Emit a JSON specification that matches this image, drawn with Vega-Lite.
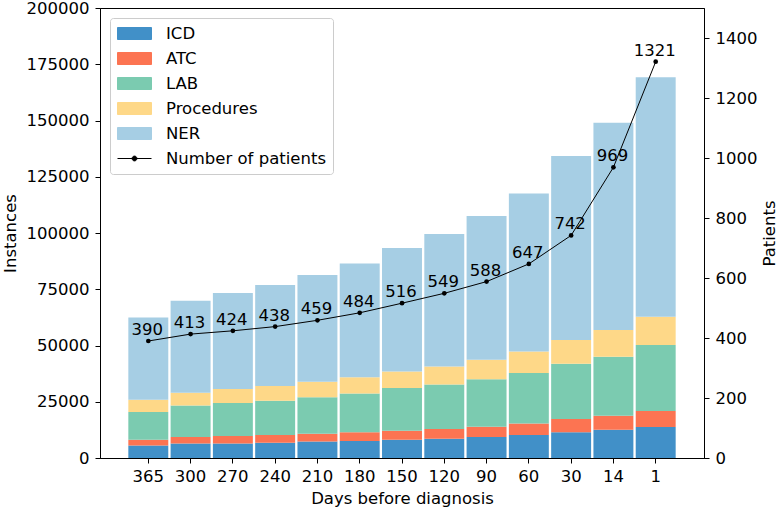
{
  "$schema": "https://vega.github.io/schema/vega-lite/v6.json",
  "width": 604,
  "height": 450,
  "autosize": "none",
  "padding": {"left": 100, "top": 8, "right": 78, "bottom": 54},
  "background": "white",
  "config": {
    "font": "DejaVu Sans",
    "view": {"stroke": "black", "strokeWidth": 1},
    "axis": {
      "grid": false,
      "domainColor": "black",
      "tickColor": "black",
      "tickSize": 5,
      "labelColor": "black",
      "titleColor": "black",
      "labelFontSize": 16.5,
      "titleFontSize": 16.5,
      "titleFontWeight": "normal",
      "labelFont": "DejaVu Sans",
      "titleFont": "DejaVu Sans"
    },
    "legend": {
      "labelFont": "DejaVu Sans",
      "labelFontSize": 16.5,
      "labelColor": "black"
    }
  },
  "datasets": {
    "bars": [
      {"day": 365, "type": "ICD", "k": 1, "value": 5600},
      {"day": 365, "type": "ATC", "k": 2, "value": 2500},
      {"day": 365, "type": "LAB", "k": 3, "value": 12300},
      {"day": 365, "type": "Procedures", "k": 4, "value": 5500},
      {"day": 365, "type": "NER", "k": 5, "value": 36500},
      {"day": 300, "type": "ICD", "k": 1, "value": 6400},
      {"day": 300, "type": "ATC", "k": 2, "value": 2900},
      {"day": 300, "type": "LAB", "k": 3, "value": 14000},
      {"day": 300, "type": "Procedures", "k": 4, "value": 5700},
      {"day": 300, "type": "NER", "k": 5, "value": 40900},
      {"day": 270, "type": "ICD", "k": 1, "value": 6500},
      {"day": 270, "type": "ATC", "k": 2, "value": 3300},
      {"day": 270, "type": "LAB", "k": 3, "value": 14600},
      {"day": 270, "type": "Procedures", "k": 4, "value": 6300},
      {"day": 270, "type": "NER", "k": 5, "value": 42600},
      {"day": 240, "type": "ICD", "k": 1, "value": 6800},
      {"day": 240, "type": "ATC", "k": 2, "value": 3400},
      {"day": 240, "type": "LAB", "k": 3, "value": 15300},
      {"day": 240, "type": "Procedures", "k": 4, "value": 6500},
      {"day": 240, "type": "NER", "k": 5, "value": 44900},
      {"day": 210, "type": "ICD", "k": 1, "value": 7300},
      {"day": 210, "type": "ATC", "k": 2, "value": 3500},
      {"day": 210, "type": "LAB", "k": 3, "value": 16200},
      {"day": 210, "type": "Procedures", "k": 4, "value": 6900},
      {"day": 210, "type": "NER", "k": 5, "value": 47400},
      {"day": 180, "type": "ICD", "k": 1, "value": 7600},
      {"day": 180, "type": "ATC", "k": 2, "value": 3800},
      {"day": 180, "type": "LAB", "k": 3, "value": 17300},
      {"day": 180, "type": "Procedures", "k": 4, "value": 7200},
      {"day": 180, "type": "NER", "k": 5, "value": 50600},
      {"day": 150, "type": "ICD", "k": 1, "value": 8100},
      {"day": 150, "type": "ATC", "k": 2, "value": 4000},
      {"day": 150, "type": "LAB", "k": 3, "value": 19000},
      {"day": 150, "type": "Procedures", "k": 4, "value": 7400},
      {"day": 150, "type": "NER", "k": 5, "value": 54800},
      {"day": 120, "type": "ICD", "k": 1, "value": 8600},
      {"day": 120, "type": "ATC", "k": 2, "value": 4300},
      {"day": 120, "type": "LAB", "k": 3, "value": 19800},
      {"day": 120, "type": "Procedures", "k": 4, "value": 8000},
      {"day": 120, "type": "NER", "k": 5, "value": 58900},
      {"day": 90, "type": "ICD", "k": 1, "value": 9300},
      {"day": 90, "type": "ATC", "k": 2, "value": 4600},
      {"day": 90, "type": "LAB", "k": 3, "value": 21100},
      {"day": 90, "type": "Procedures", "k": 4, "value": 8700},
      {"day": 90, "type": "NER", "k": 5, "value": 63900},
      {"day": 60, "type": "ICD", "k": 1, "value": 10200},
      {"day": 60, "type": "ATC", "k": 2, "value": 5100},
      {"day": 60, "type": "LAB", "k": 3, "value": 22500},
      {"day": 60, "type": "Procedures", "k": 4, "value": 9500},
      {"day": 60, "type": "NER", "k": 5, "value": 70300},
      {"day": 30, "type": "ICD", "k": 1, "value": 11400},
      {"day": 30, "type": "ATC", "k": 2, "value": 5900},
      {"day": 30, "type": "LAB", "k": 3, "value": 24600},
      {"day": 30, "type": "Procedures", "k": 4, "value": 10500},
      {"day": 30, "type": "NER", "k": 5, "value": 81800},
      {"day": 14, "type": "ICD", "k": 1, "value": 12600},
      {"day": 14, "type": "ATC", "k": 2, "value": 6200},
      {"day": 14, "type": "LAB", "k": 3, "value": 26200},
      {"day": 14, "type": "Procedures", "k": 4, "value": 11900},
      {"day": 14, "type": "NER", "k": 5, "value": 92100},
      {"day": 1, "type": "ICD", "k": 1, "value": 13800},
      {"day": 1, "type": "ATC", "k": 2, "value": 7100},
      {"day": 1, "type": "LAB", "k": 3, "value": 29300},
      {"day": 1, "type": "Procedures", "k": 4, "value": 12600},
      {"day": 1, "type": "NER", "k": 5, "value": 106400}
    ],
    "patients": [
      {"day": 365, "patients": 390, "series": "Number of patients"},
      {"day": 300, "patients": 413, "series": "Number of patients"},
      {"day": 270, "patients": 424, "series": "Number of patients"},
      {"day": 240, "patients": 438, "series": "Number of patients"},
      {"day": 210, "patients": 459, "series": "Number of patients"},
      {"day": 180, "patients": 484, "series": "Number of patients"},
      {"day": 150, "patients": 516, "series": "Number of patients"},
      {"day": 120, "patients": 549, "series": "Number of patients"},
      {"day": 90, "patients": 588, "series": "Number of patients"},
      {"day": 60, "patients": 647, "series": "Number of patients"},
      {"day": 30, "patients": 742, "series": "Number of patients"},
      {"day": 14, "patients": 969, "series": "Number of patients"},
      {"day": 1, "patients": 1321, "series": "Number of patients"}
    ]
  },
  "encoding": {
    "x": {
      "field": "day",
      "type": "ordinal",
      "sort": [365, 300, 270, 240, 210, 180, 150, 120, 90, 60, 30, 14, 1],
      "scale": {"paddingInner": 0.055, "paddingOuter": 0.67},
      "axis": {"title": "Days before diagnosis", "labelAngle": 0, "labelPadding": 5, "titlePadding": 6}
    }
  },
  "layer": [
    {
      "data": {"name": "bars"},
      "mark": {"type": "bar", "strokeWidth": 0},
      "encoding": {
        "y": {
          "field": "value",
          "type": "quantitative",
          "aggregate": "sum",
          "stack": "zero",
          "scale": {"domain": [0, 200000], "nice": false},
          "axis": {
            "title": "Instances",
            "values": [0, 25000, 50000, 75000, 100000, 125000, 150000, 175000, 200000],
            "format": "d",
            "labelPadding": 6,
            "titlePadding": 8
          }
        },
        "color": {
          "field": "type",
          "type": "nominal",
          "scale": {
            "domain": ["ICD", "ATC", "LAB", "Procedures", "NER", "Number of patients"],
            "range": ["#4190c8", "#fc7452", "#7bcbb0", "#fed888", "#a6cee4", "#000000"]
          },
          "legend": {
            "title": null,
            "orient": "top-left",
            "offset": 10,
            "padding": 7,
            "fillColor": "white",
            "strokeColor": "#cccccc",
            "cornerRadius": 3,
            "symbolSize": 256,
            "labelOffset": 32,
            "rowPadding": 8,
            "encode": {
              "symbols": {
                "update": {
                  "shape": {"signal": "datum.value === 'Number of patients' ? 'M-1,0H3.25M0.825,0A0.3,0.3 0 1,0 1.425,0A0.3,0.3 0 1,0 0.825,0' : 'M-1,-0.75H3.25V0.75H-1Z'"},
                  "fill": {"signal": "datum.value === 'Number of patients' ? 'black' : scale('color', datum.value)"},
                  "stroke": {"signal": "datum.value === 'Number of patients' ? 'black' : 'transparent'"},
                  "strokeWidth": {"value": 1},
                  "opacity": {"value": 1}
                }
              }
            }
          }
        },
        "order": {"field": "k", "type": "quantitative"}
      }
    },
    {
      "data": {"name": "patients"},
      "encoding": {
        "y": {
          "field": "patients",
          "type": "quantitative",
          "scale": {"domain": [0, 1500], "nice": false},
          "axis": {
            "title": "Patients",
            "orient": "right",
            "format": "d",
            "values": [0, 200, 400, 600, 800, 1000, 1200, 1400],
            "labelPadding": 6,
            "titleAngle": 270,
            "titleBaseline": "top",
            "titlePadding": 5
          }
        }
      },
      "layer": [
        {
          "mark": {"type": "line", "strokeWidth": 1, "point": {"filled": true, "size": 22}},
          "encoding": {
            "color": {"field": "series", "type": "nominal"}
          }
        },
        {
          "mark": {"type": "text", "fontSize": 16.5, "baseline": "alphabetic", "align": "center", "dy": -6, "dx": -1, "color": "black", "font": "DejaVu Sans"},
          "encoding": {
            "text": {"field": "patients", "type": "quantitative", "format": "d"}
          }
        }
      ]
    }
  ],
  "resolve": {"scale": {"y": "independent"}, "axis": {"y": "independent"}}
}
